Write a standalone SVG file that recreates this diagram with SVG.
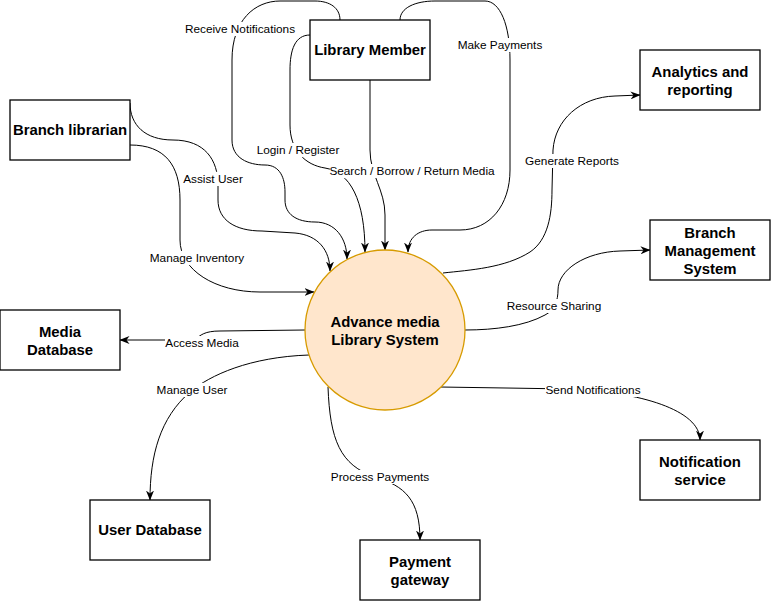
<svg xmlns="http://www.w3.org/2000/svg" width="771" height="601" viewBox="0 0 771 601">
<style>
.box{fill:#ffffff;stroke:#000000;stroke-width:1.3}
.t{font-family:"Liberation Sans",Arial,sans-serif;font-size:14.9px;font-weight:bold;fill:#000;text-anchor:middle}
.e{fill:none;stroke:#000000;stroke-width:1}
.lb{font-family:"Liberation Sans",Arial,sans-serif;font-size:11.8px;fill:#000;text-anchor:middle}
.bg{fill:#ffffff}
</style>
<defs>
<marker id="arr" viewBox="0 0 10 8" refX="9.5" refY="4" markerWidth="10" markerHeight="8" markerUnits="userSpaceOnUse" orient="auto">
<path d="M0,0 L10,4 L0,8 L3,4 z" fill="#000"/>
</marker>
</defs>
<rect width="771" height="601" fill="#ffffff"/>
<g id="connectors">
<path class="e" marker-end="url(#arr)" d="M340,20 C340,8 330,1 315,1 L280,1 C255,1 232,20 232,60 L232,140 C232,158 248,165 265,165 C280,165 285,178 285,192 L285,200 C285,214 296,222 315,222 C335,222 347,238 347,259"/>
<path class="e" marker-end="url(#arr)" d="M130,103 C130,125 145,140 173,140 C205,140 218,160 218,185 L218,200 C218,220 235,231 262,231 L295,233 C318,235 330,250 330,271"/>
<path class="e" marker-end="url(#arr)" d="M130,145 C165,145 180,165 180,200 L180,240 C180,270 215,292 260,292 L314,292"/>
<path class="e" marker-end="url(#arr)" d="M310,35 C295,35 290,50 290,70 L290,125 C290,150 305,165 325,168 C350,172 365,200 365,252"/>
<path class="e" marker-end="url(#arr)" d="M370,80 L370,150 C370,175 385,190 385,215 L385,250"/>
<path class="e" marker-end="url(#arr)" d="M400,20 C400,8 415,1 435,1 L485,1 C500,1 510,25 510,60 L510,170 C510,205 490,230 460,230 L432,230 C418,230 408,238 408,252"/>
<path class="e" marker-end="url(#arr)" d="M443,273 C470,270 505,268 530,252 C548,240 552,215 552,190 L553,150 C555,120 580,97 615,96 L640,95"/>
<path class="e" marker-end="url(#arr)" d="M465,330 C495,330 525,326 545,315 C555,310 558,300 558,290 C558,270 585,252 620,251 L650,250"/>
<path class="e" marker-end="url(#arr)" d="M440,387 L570,389 C640,392 700,410 700,440"/>
<path class="e" marker-end="url(#arr)" d="M328,387 C330,440 340,465 375,477 C405,486 420,500 420,540"/>
<path class="e" marker-end="url(#arr)" d="M309,355 C250,357 210,375 190,392 C160,418 150,455 150,500"/>
<path class="e" marker-end="url(#arr)" d="M305,330 L220,331 C205,331 200,335 195,340 L120,340"/>
<g id="edge-labels">
<rect class="bg" x="184" y="22" width="112" height="14"/><text class="lb" x="240" y="33">Receive Notifications</text>
<rect class="bg" x="255" y="143" width="86" height="14"/><text class="lb" x="298" y="154">Login / Register</text>
<rect class="bg" x="330" y="164" width="164" height="14"/><text class="lb" x="412" y="175">Search / Borrow / Return Media</text>
<rect class="bg" x="459" y="38" width="82" height="14"/><text class="lb" x="500" y="49">Make Payments</text>
<rect class="bg" x="525" y="154" width="94" height="14"/><text class="lb" x="572" y="165">Generate Reports</text>
<rect class="bg" x="182" y="172" width="62" height="14"/><text class="lb" x="213" y="183">Assist User</text>
<rect class="bg" x="149" y="251" width="96" height="14"/><text class="lb" x="197" y="262">Manage Inventory</text>
<rect class="bg" x="165" y="336" width="74" height="14"/><text class="lb" x="202" y="347">Access Media</text>
<rect class="bg" x="157" y="383" width="70" height="14"/><text class="lb" x="192" y="394">Manage User</text>
<rect class="bg" x="330" y="470" width="100" height="14"/><text class="lb" x="380" y="481">Process Payments</text>
<rect class="bg" x="545" y="383" width="97" height="14"/><text class="lb" x="593" y="394">Send Notifications</text>
<rect class="bg" x="506" y="299" width="96" height="14"/><text class="lb" x="554" y="310">Resource Sharing</text>
</g>
</g>
<g id="library-member"><rect class="box" x="310" y="20" width="120" height="60"/><text class="t" x="370" y="55">Library Member</text></g>
<g id="branch-librarian"><rect class="box" x="10" y="100" width="120" height="60"/><text class="t" x="70" y="135">Branch librarian</text></g>
<g id="media-database"><rect class="box" x="0" y="310" width="120" height="60"/><text class="t" x="60" y="337">Media</text><text class="t" x="60" y="355">Database</text></g>
<g id="user-database"><rect class="box" x="90" y="500" width="120" height="60"/><text class="t" x="150" y="535">User Database</text></g>
<g id="payment-gateway"><rect class="box" x="360" y="540" width="120" height="60"/><text class="t" x="420" y="567">Payment</text><text class="t" x="420" y="585">gateway</text></g>
<g id="analytics"><rect class="box" x="640" y="50" width="120" height="60"/><text class="t" x="700" y="77">Analytics and</text><text class="t" x="700" y="95">reporting</text></g>
<g id="branch-management"><rect class="box" x="650" y="220" width="120" height="60"/><text class="t" x="710" y="238">Branch</text><text class="t" x="710" y="256">Management</text><text class="t" x="710" y="274">System</text></g>
<g id="notification-service"><rect class="box" x="640" y="440" width="120" height="60"/><text class="t" x="700" y="467">Notification</text><text class="t" x="700" y="485">service</text></g>
<g id="system"><circle cx="385" cy="330" r="80" fill="#ffe6cc" stroke="#d79b00" stroke-width="1.3"/><text class="t" x="385" y="327">Advance media</text><text class="t" x="385" y="345">Library System</text></g>
</svg>
